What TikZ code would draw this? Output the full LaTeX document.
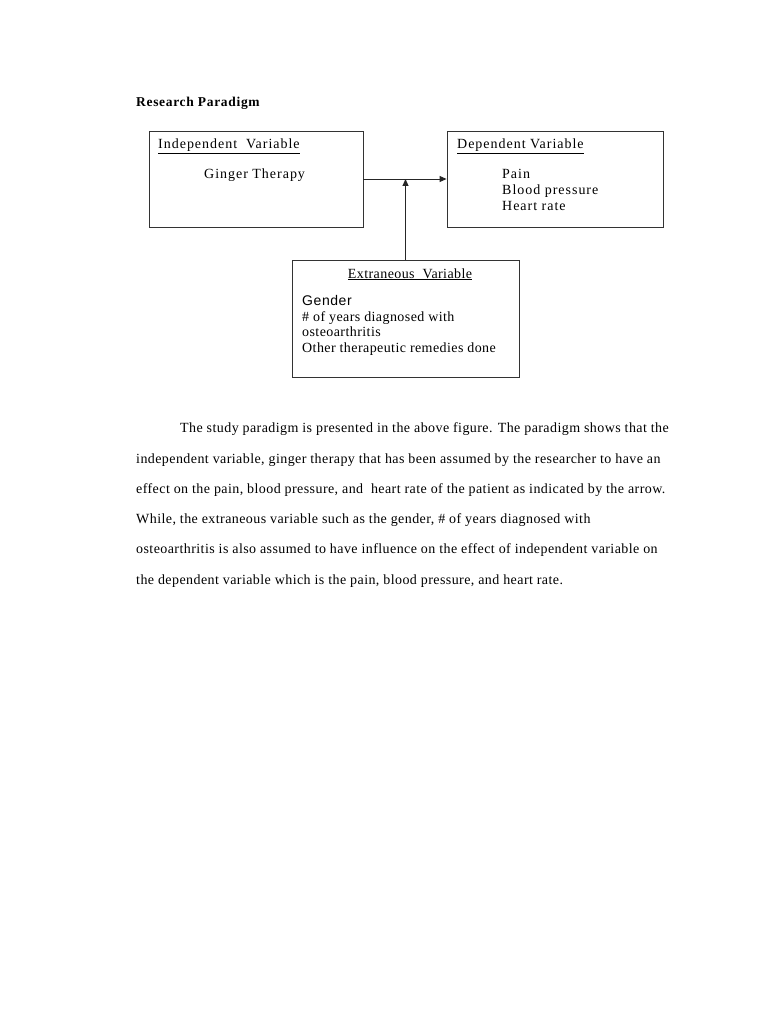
\documentclass[tikz,border=0pt]{standalone}
\usepackage{fontspec}
\setmainfont{Liberation Serif}
\newfontfamily\widefont[LetterSpace=7]{Liberation Serif}
\newfontfamily\midfont[LetterSpace=3]{Liberation Serif}
\newfontfamily\titlefont[LetterSpace=5]{Liberation Serif}
\newfontfamily\gendersans[LetterSpace=4]{Liberation Sans}
\usetikzlibrary{arrows.meta,positioning}

\begin{document}
\begin{tikzpicture}[
  x=1pt, y=-1pt,
  box/.style={draw=black!80, line width=0.9pt, minimum width=#1, inner sep=0pt},
  lbl/.style={anchor=base west, inner sep=0pt, font=\widefont\fontsize{14}{16}\selectfont},
  xlbl/.style={anchor=base west, inner sep=0pt, font=\midfont\fontsize{14}{16}\selectfont},
  body/.style={anchor=base west, inner sep=0pt, font=\midfont\fontsize{14}{16}\selectfont},
  arr/.style={draw=black!85, line width=0.9pt, -{Triangle[length=7pt,width=6pt]}},
]
\useasboundingbox[fill=white] (0,0) rectangle (768,1024);

\node[anchor=base west, inner sep=0pt, font=\titlefont\bfseries\fontsize{13.5}{15}\selectfont]
  (title) at (136,107) {Research Paradigm};

% boxes
\node[box=214pt, minimum height=96pt] (indep) at (256,179) {};
\node[box=216pt, minimum height=96pt] (dep) at (555,179) {};
\node[box=227pt, minimum height=117pt] (extr) at (405.5,318.5) {};

% box texts
\node[lbl] (indeph) at (158,149) {\underline{Independent\ \ Variable}};
\node[lbl] (ginger) at (204,179) {Ginger Therapy};
\node[lbl] (deph) at (457,149) {\underline{Dependent Variable}};
\node[lbl] (pain) at (502,179) {Pain};
\node[lbl] (bp) at (502,195) {Blood pressure};
\node[lbl] (hr) at (502,211) {Heart rate};
\node[xlbl, anchor=base] (extrh) at (410,278) {\underline{Extraneous\ \ Variable}};
\node[xlbl, font=\gendersans\fontsize{14}{16}\selectfont] (gender) at (302,305) {Gender};
\node[xlbl] (years) at (302,321) {\# of years diagnosed with};
\node[xlbl] (osteo) at (302,336) {osteoarthritis};
\node[xlbl] (other) at (302,352) {Other therapeutic remedies done};

% connectors
\draw[arr] (indep.east) -- (dep.west);
\draw[arr] (extr.north) -- (extr.north |- indep.east);

% paragraph
\node[body] (l1) at (180,432) {The study paradigm is presented in the above figure. The paradigm shows that the};
\node[body] (l2) at (136,463) {independent variable, ginger therapy that has been assumed by the researcher to have an};
\node[body] (l3) at (136,493) {effect on the pain, blood pressure, and\ \ heart rate of the patient as indicated by the arrow.};
\node[body] (l4) at (136,523) {While, the extraneous variable such as the gender, \# of years diagnosed with};
\node[body] (l5) at (136,553) {osteoarthritis is also assumed to have influence on the effect of independent variable on};
\node[body] (l6) at (136,584) {the dependent variable which is the pain, blood pressure, and heart rate.};
\end{tikzpicture}
\end{document}
